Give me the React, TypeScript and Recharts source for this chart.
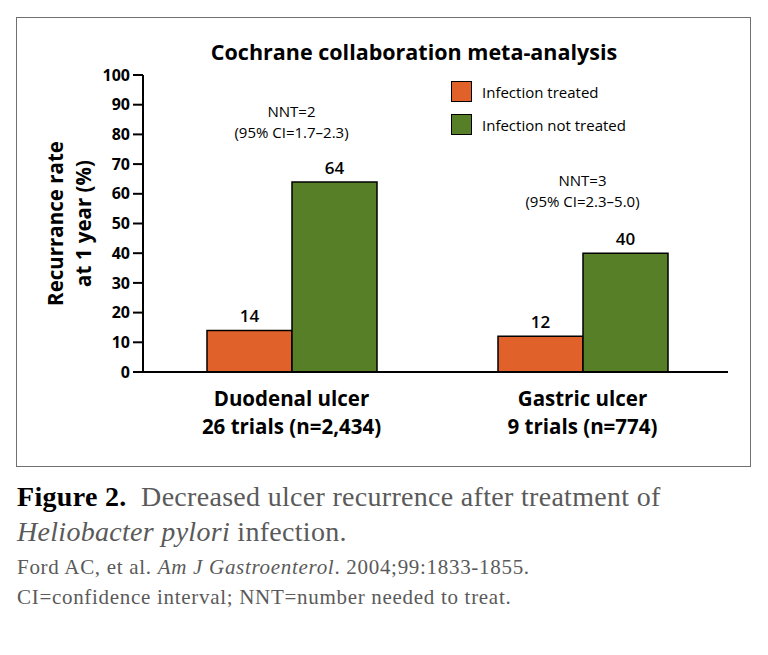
import React from 'react';
import { BarChart, Bar, XAxis, YAxis, LabelList, ReferenceDot } from 'recharts';

const categories = ['Duodenal ulcer', 'Gastric ulcer'];
const trialLabels = ['26 trials (n=2,434)', '9 trials (n=774)'];
const seriesNames = ['Infection treated', 'Infection not treated'];
const treated = [14, 12];
const notTreated = [64, 40];
const nntLabels = ['NNT=2', 'NNT=3'];
const ciLabels = ['(95% CI=1.7–2.3)', '(95% CI=2.3–5.0)'];
const nntLevels = [87.8, 64.8];
const yTicks = [0, 10, 20, 30, 40, 50, 60, 70, 80, 90, 100];

const SANS = '"Open Sans", sans-serif';
const SERIF = '"Liberation Serif", serif';
const ORANGE = '#E0622A';
const GREEN = '#567F28';

const data = categories.map((name, i) => ({
  name,
  treated: treated[i],
  notTreated: notTreated[i],
}));

// two-line bold category label under the axis
const CategoryTick = (props: any) => {
  const { x, y, index } = props;
  return (
    <g>
      <text x={x} y={y + 26} textAnchor="middle" dominantBaseline="central" fontFamily={SANS} fontWeight={700} fontSize={20.5} fill="#000">
        {categories[index]}
      </text>
      <text x={x} y={y + 54} textAnchor="middle" dominantBaseline="central" fontFamily={SANS} fontWeight={700} fontSize={20.5} fill="#000">
        {trialLabels[index]}
      </text>
    </g>
  );
};

const YLabel = (props: any) => {
  const { viewBox } = props;
  const cy = viewBox.y + viewBox.height / 2;
  const x1 = viewBox.x - 28;
  const x2 = viewBox.x;
  return (
    <g fontFamily={SANS} fontWeight={700} fontSize={20.5} fill="#000">
      <text x={x1} y={cy} transform={`rotate(-90 ${x1} ${cy})`} textAnchor="middle" dominantBaseline="central">
        Recurrance rate
      </text>
      <text x={x2} y={cy} transform={`rotate(-90 ${x2} ${cy})`} textAnchor="middle" dominantBaseline="central">
        at 1 year (%)
      </text>
    </g>
  );
};

const nntLabel = (i: number) => (props: any) => {
  const { viewBox } = props;
  const cx = viewBox.x + viewBox.width / 2;
  const cy = viewBox.y + viewBox.height / 2;
  return (
    <g fontFamily={SANS} fontSize={15} fill="#000">
      <text x={cx} y={cy} textAnchor="middle" dominantBaseline="central">{nntLabels[i]}</text>
      <text x={cx} y={cy + 21} textAnchor="middle" dominantBaseline="central">{ciLabels[i]}</text>
    </g>
  );
};

export default function App() {
  return (
    <div style={{ position: 'absolute', left: 0, top: 0, width: 768, height: 655, background: '#fff' }}>
      <div
        style={{
          position: 'absolute', left: 16, top: 17, width: 735, height: 450,
          border: '1px solid #707070', boxSizing: 'border-box',
        }}
      />
      <div
        style={{
          position: 'absolute', left: 114, top: 38, width: 600, textAlign: 'center',
          fontFamily: SANS, fontWeight: 700, fontSize: 21.5, lineHeight: '28px', color: '#000',
        }}
      >
        Cochrane collaboration meta-analysis
      </div>

      <div style={{ position: 'absolute', left: 0, top: 0 }}>
        <BarChart
          width={768}
          height={470}
          data={data}
          margin={{ top: 75, right: 40, bottom: 38, left: 83 }}
          barGap={0}
        >
          <XAxis
            dataKey="name"
            height={60}
            tickLine={false}
            tickSize={0}
            tickMargin={0}
            padding={{ left: 3, right: 0 }}
            axisLine={{ stroke: '#000', strokeWidth: 2 }}
            tick={<CategoryTick />}
          />
          <YAxis
            width={60}
            domain={[0, 100]}
            ticks={yTicks}
            interval={0}
            tickSize={10}
            tickMargin={3}
            axisLine={{ stroke: '#000', strokeWidth: 2 }}
            tickLine={{ stroke: '#000', strokeWidth: 2 }}
            tick={{ fontFamily: SANS, fontWeight: 700, fontSize: 16, fill: '#000' }}
            label={{ content: <YLabel /> }}
          />
          <Bar dataKey="treated" name={seriesNames[0]} fill={ORANGE} stroke="#000" strokeWidth={1.5} barSize={85} isAnimationActive={false}>
            <LabelList dataKey="treated" position="top" offset={8} fontFamily={SANS} fontWeight={600} fontSize={17} fill="#000" />
          </Bar>
          <Bar dataKey="notTreated" name={seriesNames[1]} fill={GREEN} stroke="#000" strokeWidth={1.5} barSize={85} isAnimationActive={false}>
            <LabelList dataKey="notTreated" position="top" offset={8} fontFamily={SANS} fontWeight={600} fontSize={17} fill="#000" />
          </Bar>
          {categories.map((c, i) => (
            <ReferenceDot key={c} x={c} y={nntLevels[i]} r={1} fill="none" stroke="none" label={{ content: nntLabel(i) }} />
          ))}
        </BarChart>
      </div>

      {/* legend */}
      {seriesNames.map((s, i) => (
        <div key={s} style={{ position: 'absolute', left: 451, top: 81 + i * 33, display: 'flex', alignItems: 'center' }}>
          <div
            style={{
              width: 21, height: 21, boxSizing: 'border-box', border: '1.5px solid #000',
              background: i === 0 ? ORANGE : GREEN,
            }}
          />
          <span style={{ marginLeft: 10, fontFamily: SANS, fontSize: 15, color: '#000' }}>{s}</span>
        </div>
      ))}

      {/* caption */}
      <div
        style={{
          position: 'absolute', left: 17, top: 479, fontFamily: SERIF, fontSize: 28, lineHeight: '35px',
          letterSpacing: 0.3, color: '#5a5a5a',
        }}
      >
        <div>
          <b style={{ color: '#000' }}>Figure 2.</b>&nbsp; Decreased ulcer recurrence after treatment of
        </div>
        <div>
          <i>Heliobacter pylori</i> infection.
        </div>
      </div>
      <div
        style={{
          position: 'absolute', left: 17, top: 552, fontFamily: SERIF, fontSize: 21, lineHeight: '30px',
          letterSpacing: 0.7, color: '#5a5a5a',
        }}
      >
        <div>
          Ford AC, et al. <i>Am J Gastroenterol</i>. 2004;99:1833-1855.
        </div>
        <div>CI=confidence interval; NNT=number needed to treat.</div>
      </div>
    </div>
  );
}
